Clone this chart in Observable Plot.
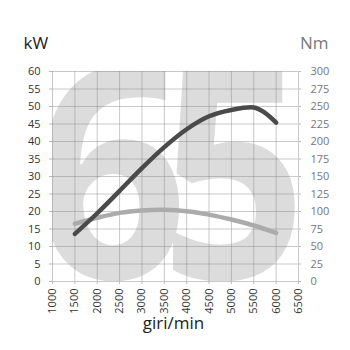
<!DOCTYPE html>
<html><head><meta charset="utf-8">
<script src="https://cdn.jsdelivr.net/npm/d3@7"></script>
<script src="https://cdn.jsdelivr.net/npm/@observablehq/plot@0.6"></script>
<style>html,body{margin:0;padding:0;background:#fff;}</style>
</head><body><div id="chart"></div>
<script>
// Power curve (kW)
const powerRpm = [1500, 2000, 2500, 3000, 3500, 4000, 4500, 5000, 5500, 5750, 6000];
const powerKw  = [13.6, 19.5, 25.9, 32.4, 38.4, 43.5, 47.2, 49.0, 49.7, 48.2, 45.4];
// Torque curve (Nm)
const torqueRpm = [1500, 2000, 2500, 3000, 3500, 4000, 4500, 5000, 5500, 6000];
const torqueNm  = [82.5, 91, 98, 101.5, 102.5, 100.5, 95.5, 88.5, 80, 69.5];
// Ticks
const xTicks = [1000, 1500, 2000, 2500, 3000, 3500, 4000, 4500, 5000, 5500, 6000, 6500];
const kwTicks = [0, 5, 10, 15, 20, 25, 30, 35, 40, 45, 50, 55, 60];
const nmPerKw = 5; // right axis 0-300 Nm maps to left 0-60 kW
const bigLabel = ["6", "5"];

const power = powerRpm.map((r, i) => ({rpm: r, kw: powerKw[i]}));
const torque = torqueRpm.map((r, i) => ({rpm: r, nm: torqueNm[i]}));

const plot = Plot.plot({
  width: 350, height: 350,
  marginTop: 71, marginBottom: 69, marginLeft: 52, marginRight: 52,
  style: {fontFamily: "'Open Sans', sans-serif", fontSize: "11px", color: "#333", background: "#fff"},
  x: {domain: [1000, 6500]},
  y: {domain: [0, 60]},
  marks: [
    Plot.text([bigLabel[0]], {text: d => d, frameAnchor: "bottom", lineAnchor: "bottom", dx: -65, dy: -3,
      fontSize: 300, fontWeight: 700, fill: "#dcdcdc", clip: "frame"}),
    Plot.text([bigLabel[1]], {text: d => d, frameAnchor: "bottom", lineAnchor: "bottom", dx: 58, dy: -3,
      fontSize: 300, fontWeight: 700, fill: "#dcdcdc", clip: "frame"}),
    Plot.gridX(xTicks, {stroke: "#888", strokeOpacity: 0.45}),
    Plot.gridY(kwTicks, {stroke: "#888", strokeOpacity: 0.45}),
    Plot.axisX({ticks: xTicks, tickFormat: d => String(d), tickRotate: -90, tickSize: 3, tickPadding: 4, label: null, stroke: "#bbb", fill: "#333"}),
    Plot.axisY({ticks: kwTicks, anchor: "left", tickFormat: d => String(d), tickSize: 3, tickPadding: 9, label: null, stroke: "#bbb", fill: "#333"}),
    Plot.axisY({ticks: kwTicks, anchor: "right", tickFormat: d => String(d * nmPerKw), tickSize: 2, tickPadding: 10, label: null, stroke: "#bbb", fill: "#777"}),
    Plot.line(torque, {x: "rpm", y: d => d.nm / nmPerKw, stroke: "#ababab", strokeWidth: 4.5, curve: "catmull-rom", strokeLinecap: "round"}),
    Plot.line(power, {x: "rpm", y: "kw", stroke: "#4a4a4a", strokeWidth: 4.5, curve: "catmull-rom", strokeLinecap: "round"}),
    Plot.text(["kW"], {text: d => d, frameAnchor: "top-left", textAnchor: "start", lineAnchor: "bottom", dx: -29, dy: -23, fontSize: 17, fill: "#222"}),
    Plot.text(["Nm"], {text: d => d, frameAnchor: "top-right", textAnchor: "end", lineAnchor: "bottom", dx: 30, dy: -23, fontSize: 17, fill: "#777"}),
    Plot.text(["giri/min"], {text: d => d, frameAnchor: "bottom", textAnchor: "middle", lineAnchor: "bottom", dx: -2, dy: 47, fontSize: 17, fill: "#222"})
  ]
});
// narrow the big background digits (style only)
const squeeze = {"6": 155, "5": 146};
d3.select(plot).selectAll('g[aria-label="text"] text').each(function() {
  const t = this.textContent;
  if (squeeze[t] && this.getAttribute("font-size") !== "17") {
    d3.select(this).attr("textLength", squeeze[t]).attr("lengthAdjust", "spacingAndGlyphs");
  }
});
document.getElementById("chart").appendChild(plot);
</script>
</body></html>
